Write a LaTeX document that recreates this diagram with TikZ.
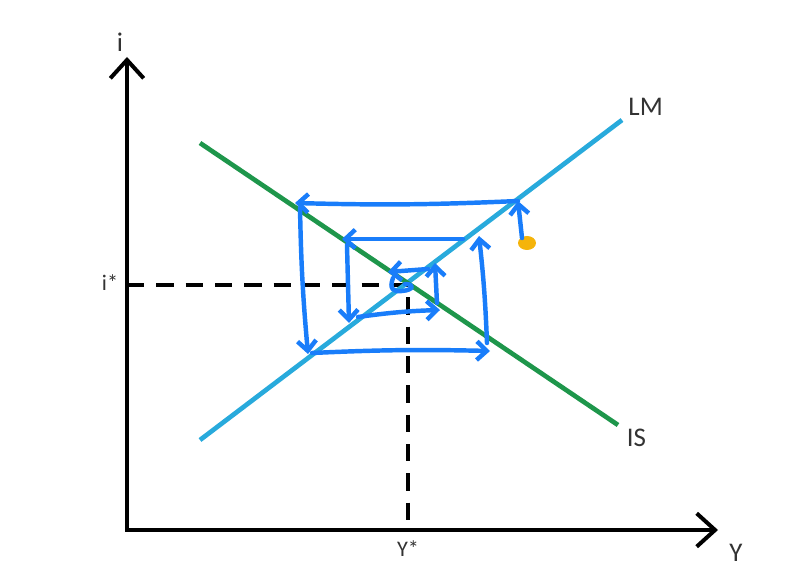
\documentclass[tikz,border=0pt]{standalone}
\usepackage{fontspec}
\setmainfont{Carlito}
\usetikzlibrary{arrows.meta,positioning}
\definecolor{lmblue}{RGB}{40,170,220}
\definecolor{isgreen}{RGB}{30,150,75}
\definecolor{penblue}{RGB}{25,125,250}
\definecolor{dotorange}{RGB}{245,180,10}

\begin{document}
\begin{tikzpicture}[
    x=0.03cm, y=-0.03cm,
    axis/.style={line width=3.4pt, line join=miter, {Straight Barb[length=5.5mm, width=10mm]}-{Straight Barb[length=5.5mm, width=10mm]}},
    guide/.style={line width=2.6pt, dash pattern=on 0.52cm off 0.36cm},
    curve/.style={line width=4pt},
    pen/.style={line width=3.8pt, penblue, line cap=round, line join=round, -{Straight Barb[length=3mm, width=5.6mm]}},
    lbl/.style={font=\fontsize{23}{26}\selectfont, text=black!80},
    tick/.style={font=\fontsize{19}{22}\selectfont, text=black!80}
]
\useasboundingbox (0,0) rectangle (803,569);

\coordinate (origin) at (127,530);
\coordinate (ytip) at (127,57);
\coordinate (xtip) at (718,530);
\coordinate (eq) at (408,285);

\draw[axis] (ytip) -- (origin) -- (xtip);
\node[lbl] (ilabel) at (120,42) {i};
\node[lbl] (ylabel) at (736,553) {Y};

% equilibrium guides
\draw[guide] (origin |- eq) -- (eq) -- (eq |- origin);
\node[tick] (istar) at (110,283) {i*};
\node[tick] (ystar) at (408,549) {Y*};

% IS and LM
\coordinate (lm0) at (200,440);
\coordinate (lm1) at (622,120);
\coordinate (is0) at (200,143);
\coordinate (is1) at (618,425);
\draw[curve, lmblue] (lm0) -- (lm1);
\draw[curve, isgreen] (is0) -- (is1);
\node[lbl, right=2pt of lm1, anchor=south west] (lm) {LM};
\node[lbl, right=4pt of is1, anchor=north west] (is) {IS};

% adjustment path
\fill[dotorange] (527,243) ellipse (9 and 7);
\coordinate (d0) at (522,238);
\coordinate (a1) at (518,201);
\coordinate (a2) at (295,203);
\coordinate (b1) at (300,208);
\coordinate (b2) at (308,354);
\coordinate (c1) at (312,353);
\coordinate (c2) at (490,351);
\coordinate (e1) at (487,343);
\coordinate (e2) at (479,236);
\coordinate (f1) at (463,239);
\coordinate (f2) at (342,239);
\coordinate (g1) at (347,245);
\coordinate (g2) at (349,323);
\coordinate (h1) at (358,317);
\coordinate (h2) at (440,310);
\coordinate (k1) at (437,303);
\coordinate (k2) at (435,263);
\coordinate (m1) at (428,269);
\coordinate (m2) at (388,272);

\draw[pen] (d0) -- (a1);
\draw[pen] (a1) to[bend left=2] (a2);
\draw[pen] (b1) to[bend right=2] (b2);
\draw[pen] (c1) to[bend left=2] (c2);
\draw[pen] (e1) to[bend right=2] (e2);
\draw[pen] (f1) -- (f2);
\draw[pen] (g1) -- (g2);
\draw[pen] (h1) to[bend left=3] (h2);
\draw[pen] (k1) -- (k2);
\draw[pen] (m1) -- (m2);
\draw[pen, -] (393,278) .. controls (389,289) and (393,292) .. (402,291)
    .. controls (414,290) and (415,284) .. (405,284);
\end{tikzpicture}
\end{document}
